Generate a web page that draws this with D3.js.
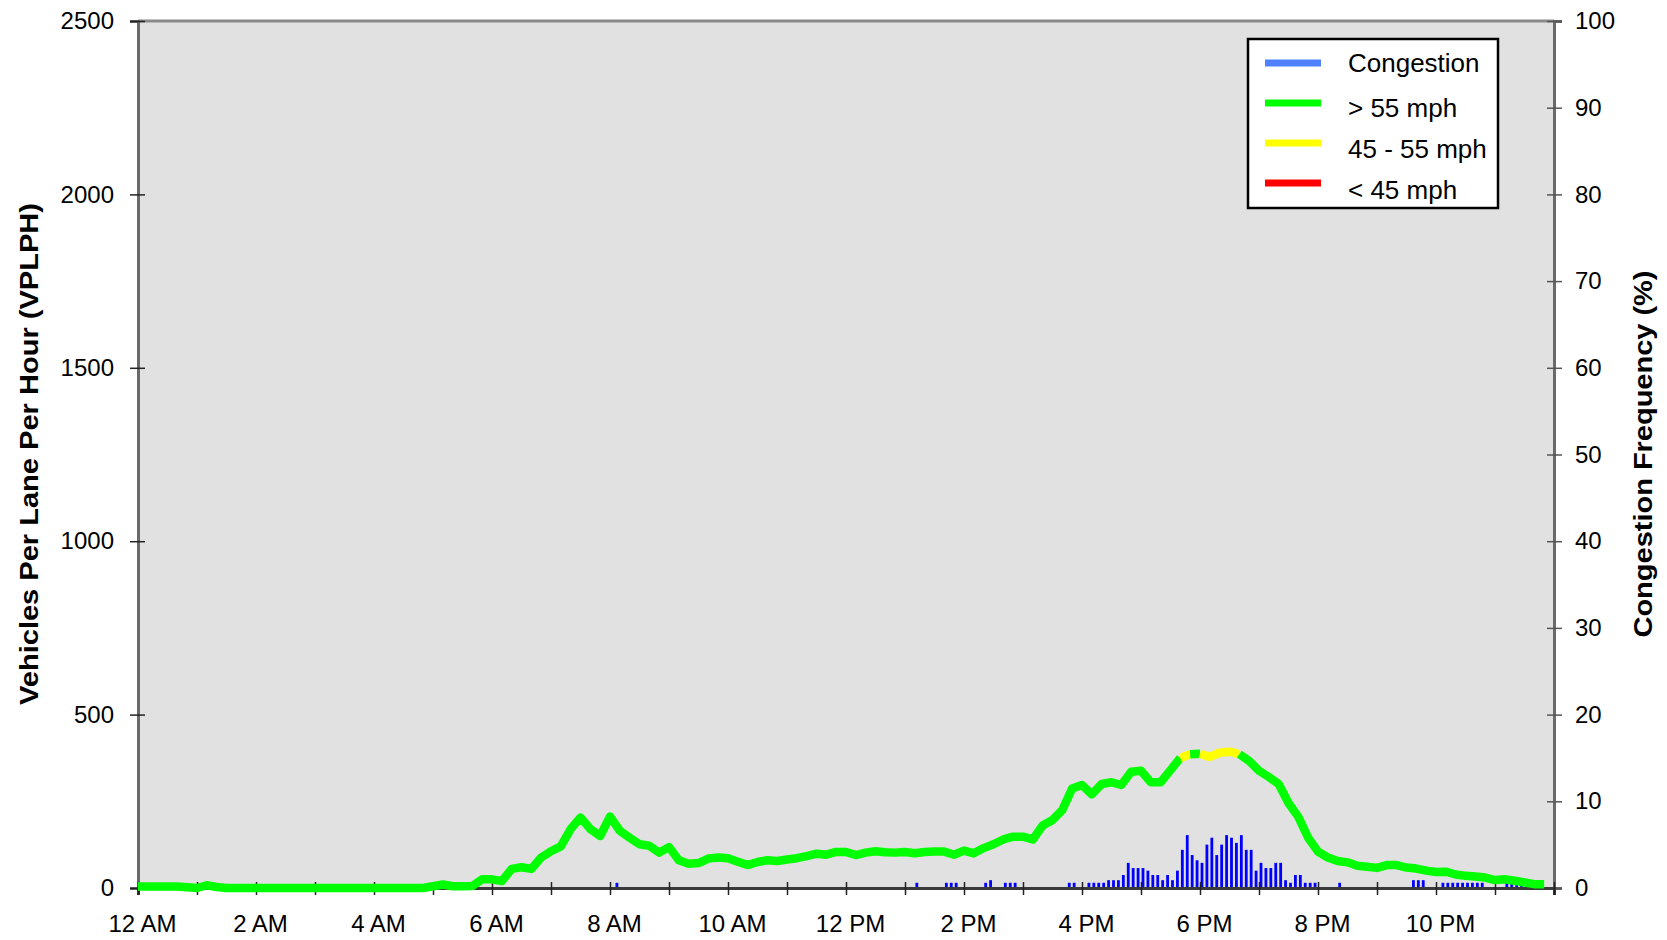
<!DOCTYPE html>
<html><head><meta charset="utf-8">
<script src="https://cdn.jsdelivr.net/npm/d3@7"></script>
<style>
body{margin:0;background:#fff;}
svg{display:block;}
text{font-family:"Liberation Sans", Arial, sans-serif;fill:#000;}
</style>
</head><body>
<svg id="chart" width="1667" height="940"></svg>
<script>
// ---------- data ----------
const timeTickLabels = ["12 AM","2 AM","4 AM","6 AM","8 AM","10 AM","12 PM","2 PM","4 PM","6 PM","8 PM","10 PM"];
const volumeTicks = [0,500,1000,1500,2000,2500];
const freqTicks = [0,10,20,30,40,50,60,70,80,90,100];

// vehicles per lane per hour, every 10 minutes starting 12:00 AM
const volume = [
  4,4,4,4,4,2,
  0,8,3,0,0,0,
  0,0,0,0,0,0, 0,0,0,0,0,0, 0,0,0,0,0,0,
  5,10,5,5,6,25,
  25,20,55,60,55,88,
  106,120,170,203,170,150,
  206,165,145,126,122,102,
  118,80,70,72,85,88,
  86,76,66,75,80,78,
  82,86,92,99,96,104,
  104,95,102,106,103,102,
  104,100,104,105,105,96,
  108,100,115,126,140,148,
  148,140,180,196,225,287,
  297,270,300,305,297,335,
  338,305,305,340,375,386,
  387,378,390,393,386,366,
  338,320,300,245,205,145,
  105,88,78,74,64,61,
  58,66,66,59,56,50,
  46,47,39,35,33,30,
  23,25,21,16,11,11
];
// intervals where the speed band differs from "> 55 mph"
const slowStart = ["17:40","18:00"];
const slowEnd   = ["17:50","18:40"];
const slowBand  = ["45 - 55 mph","45 - 55 mph"];

// congestion frequency (%) for 5-minute slots (slots not listed are 0)
const congestionTimes = ["8:05","13:10","13:40","13:45","13:50","14:20","14:25","14:40","14:45","14:50","15:45","15:50",
  "16:05","16:10","16:15","16:20","16:25","16:30","16:35","16:40","16:45","16:50","16:55",
  "17:00","17:05","17:10","17:15","17:20","17:25","17:30","17:35","17:40","17:45","17:50","17:55",
  "18:00","18:05","18:10","18:15","18:20","18:25","18:30","18:35","18:40","18:45","18:50","18:55",
  "19:00","19:05","19:10","19:15","19:20","19:25","19:30","19:35","19:40","19:45","19:50","19:55",
  "20:20","21:35","21:40","21:45",
  "22:05","22:10","22:15","22:20","22:25","22:30","22:35","22:40","22:45",
  "23:10","23:15","23:20","23:25"];
const congestionPct = [0.6,0.6,0.6,0.6,0.6,0.6,0.9,0.6,0.6,0.6,0.6,0.6,
  0.6,0.6,0.6,0.6,0.9,0.9,0.9,1.5,2.9,2.3,2.3,
  2.3,2.0,1.5,1.5,0.9,1.5,0.9,2.0,4.4,6.1,3.8,3.2,
  2.9,5.0,5.8,3.8,5.0,6.1,5.8,5.2,6.1,4.4,4.4,2.0,
  2.9,2.3,2.3,2.9,2.9,0.9,0.6,1.5,1.5,0.6,0.6,0.6,
  0.6,0.9,0.9,0.9,
  0.6,0.6,0.6,0.6,0.6,0.6,0.6,0.6,0.6,
  0.6,0.6,0.6,0.6];

const legendLabels = ["Congestion","> 55 mph","45 - 55 mph","< 45 mph"];
const legendColors = ["#4f81ff","#00ff00","#ffff00","#ff0000"];
const bandColor = {"> 55 mph":"#00ff00","45 - 55 mph":"#ffff00","< 45 mph":"#ff0000"};

// ---------- layout ----------
const L = 138, R = 1554, T = 21, B = 888;
const svg = d3.select("#chart");
const toMin = s => { const p = s.split(":"); return (+p[0])*60 + (+p[1]); };

const x = d3.scaleLinear().domain([0,1440]).range([L,R]);
const yV = d3.scaleLinear().domain([0,2500]).range([B,T]);
const yF = d3.scaleLinear().domain([0,100]).range([B,T]);

svg.append("rect").attr("x",0).attr("y",0).attr("width",1667).attr("height",940).attr("fill","#fff");
svg.append("rect").attr("x",L).attr("y",T).attr("width",R-L).attr("height",B-T).attr("fill","#e1e1e1");

// congestion bars
svg.append("g").selectAll("rect").data(congestionTimes).join("rect")
  .attr("x",(d)=>x(toMin(d))+0.6)
  .attr("width",2.8)
  .attr("y",(d,i)=>yF(congestionPct[i]))
  .attr("height",(d,i)=>B-yF(congestionPct[i]))
  .attr("fill","#0000ff");

// borders
svg.append("line").attr("x1",L).attr("x2",R).attr("y1",T).attr("y2",T).attr("stroke","#8a8a8a").attr("stroke-width",3);

// left axis
const gL = svg.append("g").attr("transform",`translate(${L},0)`)
  .call(d3.axisLeft(yV).tickValues(volumeTicks).tickSize(8).tickPadding(16).tickFormat(d3.format("d")));
gL.select(".domain").attr("stroke","#6a6a6a").attr("stroke-width",3);
gL.selectAll(".tick line").attr("x1",7).attr("stroke","#222").attr("stroke-width",1.5);
gL.selectAll(".tick text").attr("font-size",24).attr("font-family","Liberation Sans, Arial, sans-serif");

// right axis
const gR = svg.append("g").attr("transform",`translate(${R},0)`)
  .call(d3.axisRight(yF).tickValues(freqTicks).tickSize(8).tickPadding(13).tickFormat(d3.format("d")));
gR.select(".domain").attr("stroke","#6a6a6a").attr("stroke-width",3);
gR.selectAll(".tick line").attr("x1",-7).attr("stroke","#555").attr("stroke-width",1.5);
gR.selectAll(".tick text").attr("font-size",24).attr("font-family","Liberation Sans, Arial, sans-serif");

// bottom axis
const hourTicks = d3.range(0,1441,60);
const gB = svg.append("g").attr("transform",`translate(0,${B})`)
  .call(d3.axisBottom(x).tickValues(hourTicks).tickSize(7).tickPadding(20)
    .tickFormat(d => (d % 120 === 0 && d < 1440) ? timeTickLabels[d/120] : ""));
gB.select(".domain").attr("stroke","#3a3a3a").attr("stroke-width",3);
gB.selectAll(".tick line").attr("y1",-6).attr("stroke","#222").attr("stroke-width",1.5);
gB.selectAll(".tick text").attr("font-size",24).attr("font-family","Liberation Sans, Arial, sans-serif")
  .attr("dx",4).attr("dy",0).attr("y",44);

// volume line, coloured by speed band
const pts = volume.map((v,i)=>({t:i*10, v:v, band:"> 55 mph"}));
pts.forEach(p=>{
  slowStart.forEach((s,j)=>{ if (p.t >= toMin(s) && p.t < toMin(slowEnd[j])) p.band = slowBand[j]; });
});
const runs = [];
for (let i=0;i<pts.length-1;i++){
  const b = pts[i].band;
  if (runs.length && runs[runs.length-1].band===b) runs[runs.length-1].pts.push(pts[i+1]);
  else runs.push({band:b, pts:[pts[i],pts[i+1]]});
}
const lineGen = d3.line().x(d=>x(d.t)).y(d=>yV(d.v));
svg.append("g").selectAll("path").data(runs).join("path")
  .attr("d",d=>lineGen(d.pts))
  .attr("fill","none")
  .attr("stroke",d=>bandColor[d.band])
  .attr("stroke-width",8.5)
  .attr("stroke-linejoin","round")
  .attr("stroke-linecap","butt");

// legend
const lg = svg.append("g");
lg.append("rect").attr("x",1248).attr("y",39).attr("width",250).attr("height",169)
  .attr("fill","#fff").attr("stroke","#000").attr("stroke-width",2.5);
const legendLineY = [63,103,143,183];
const legendTextY = [72,117,158,199];
legendLabels.forEach((lab,i)=>{
  lg.append("line").attr("x1",1265).attr("x2",1321).attr("y1",legendLineY[i]).attr("y2",legendLineY[i])
    .attr("stroke",legendColors[i]).attr("stroke-width",7);
  lg.append("text").attr("x",1348).attr("y",legendTextY[i]).attr("font-size",26).text(lab);
});

// axis titles
svg.append("text").attr("transform","translate(29,454) rotate(-90)")
  .attr("text-anchor","middle").attr("dominant-baseline","central")
  .attr("font-size",26).attr("font-weight","bold")
  .attr("textLength",502).attr("lengthAdjust","spacingAndGlyphs")
  .text("Vehicles Per Lane Per Hour (VPLPH)");
svg.append("text").attr("transform","translate(1643,454) rotate(-90)")
  .attr("text-anchor","middle").attr("dominant-baseline","central")
  .attr("font-size",26).attr("font-weight","bold")
  .attr("textLength",367).attr("lengthAdjust","spacingAndGlyphs")
  .text("Congestion Frequency (%)");
</script>
</body></html>
